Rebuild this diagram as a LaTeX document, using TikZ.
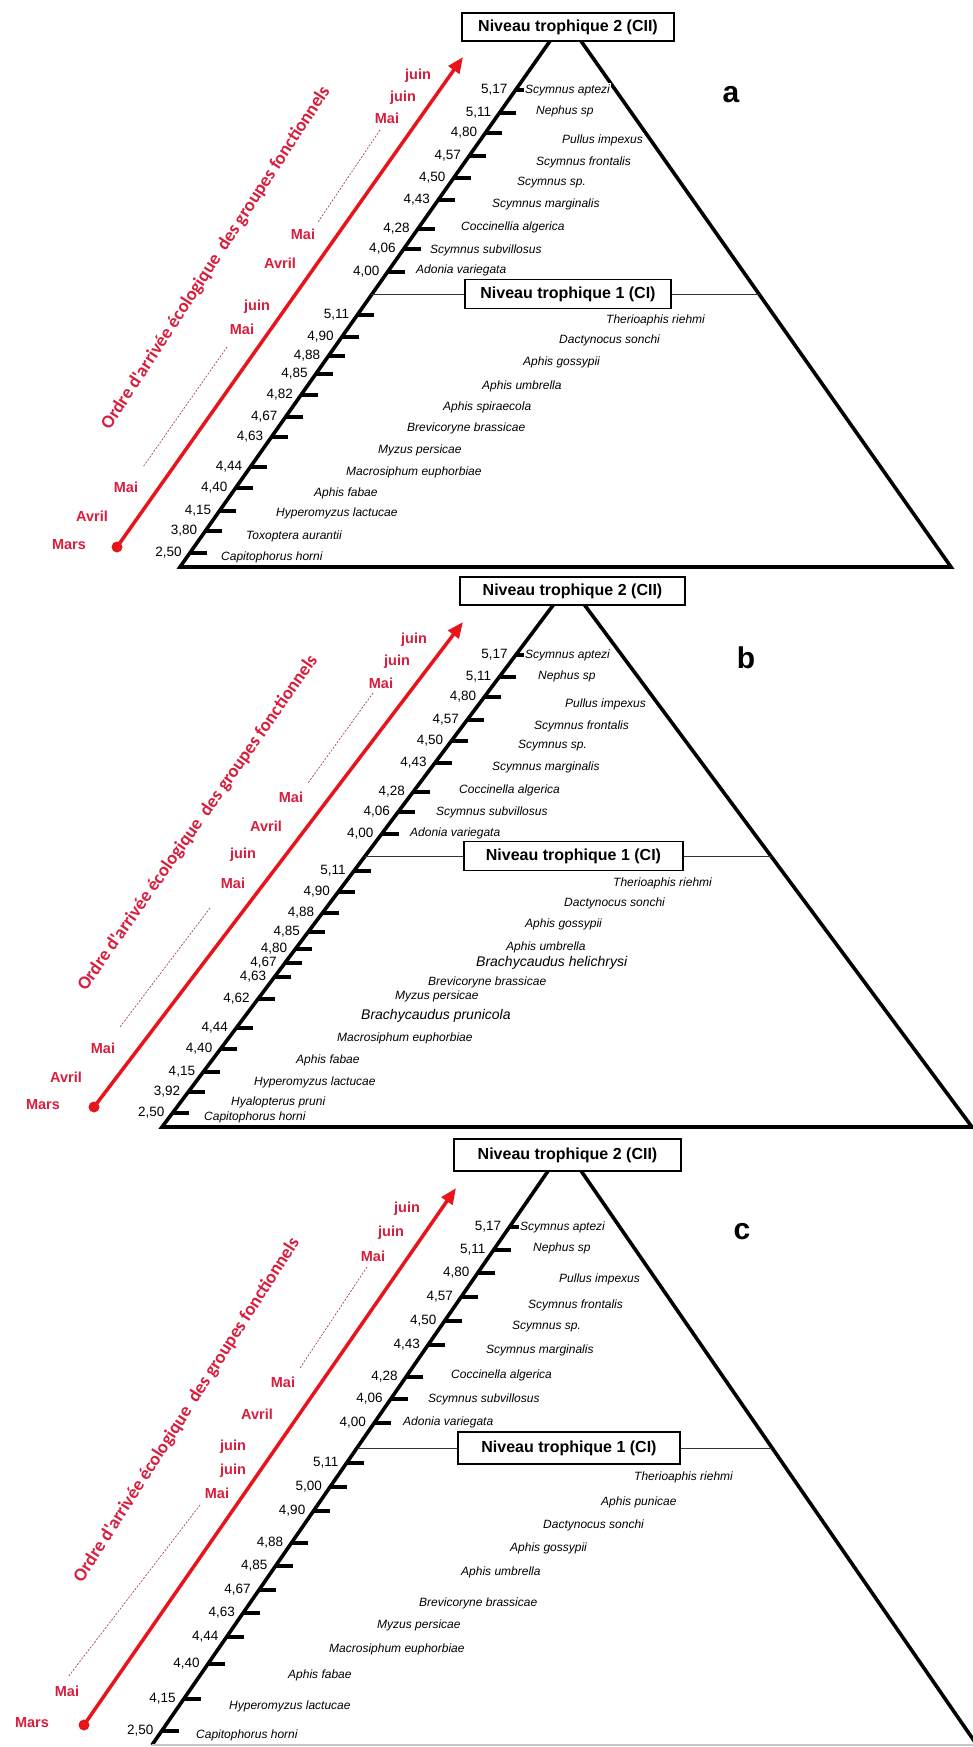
\documentclass[tikz,border=0pt]{standalone}
\usepackage{fontspec}
\setmainfont{Liberation Sans}
\newfontfamily\titlefont{Carlito}
\usepackage{tikz}
\usetikzlibrary{arrows.meta}
\definecolor{arrowred}{HTML}{E8141C}
\definecolor{monthred}{HTML}{D81E3C}
\definecolor{guidepink}{HTML}{A0406E}

\begin{document}
\begin{tikzpicture}[x=1pt,y=-1pt,
  side/.style={line width=3.6pt,line join=miter},
  tickmark/.style={line width=4.8pt},
  val/.style={anchor=east,inner sep=1pt,font=\fontsize{13.5}{14}\selectfont},
  spec/.style={anchor=west,inner sep=1pt,fill=white,font=\fontsize{12}{13}\selectfont\itshape},
  specbig/.style={spec,font=\fontsize{14}{15}\selectfont\itshape},
  level/.style={draw,line width=1.2pt,fill=white,inner sep=0pt,minimum height=29pt,font=\fontsize{16}{17}\selectfont\bfseries},
  levelline/.style={line width=0.8pt,black!80},
  month/.style={text=monthred,inner sep=0pt,font=\fontsize{14.5}{15}\selectfont\bfseries},
  title/.style={text=monthred,inner sep=0pt,font=\titlefont\bfseries\fontsize{18.5}{19}\selectfont},
  panel/.style={font=\fontsize{30}{30}\selectfont\bfseries},
  dot/.style={circle,fill=arrowred,inner sep=0pt,minimum size=11pt},
  timearrow/.style={arrowred,line width=3.5pt,-{Triangle[length=16pt,width=13pt]}},
  guide/.style={guidepink,line width=0.7pt,dash pattern=on 2pt off 1.5pt}]
\useasboundingbox (0,0) rectangle (973,1747);

\coordinate (apa) at (565.5,19);
\coordinate (bla) at (180,567);
\coordinate (bra) at (951,567);
\draw[side] (apa) -- (bla) -- (bra) -- cycle;
\foreach \v/\y [count=\i] in {{5,17}/90,{5,11}/113,{4,80}/133,{4,57}/156,{4,50}/178,{4,43}/200,{4,28}/229,{4,06}/249,{4,00}/272,{5,11}/315,{4,90}/337,{4,88}/356,{4,85}/374,{4,82}/395,{4,67}/417,{4,63}/437,{4,44}/467,{4,40}/488,{4,15}/511,{3,80}/531,{2,50}/553}{
  \pgfmathsetmacro\xl{180+0.7035*(567-\y)}
  \draw[tickmark] (\xl,\y) -- ++(17,0);
  \node[val] (va\i) at (\xl-7,\y) {\v};
}
\foreach \s/\x/\y [count=\i] in {Scymnus aptezi/524/90,Nephus sp/535/111,Pullus impexus/561/140,Scymnus frontalis/535/162,Scymnus sp./516/183,Scymnus marginalis/491/204,Coccinellia algerica/460/227,Scymnus subvillosus/429/250,Adonia variegata/415/270,Therioaphis riehmi/605/320,Dactynocus sonchi/558/340,Aphis gossypii/522/362,Aphis umbrella/481/386,Aphis spiraecola/442/407,Brevicoryne brassicae/406/428,Myzus persicae/377/450,Macrosiphum euphorbiae/345/472,Aphis fabae/313/493,Hyperomyzus lactucae/275/513,Toxoptera aurantii/245/536,Capitophorus horni/220/557}
  \node[spec] (sa\i) at (\x,\y) {\s};
\foreach \m/\x/\y [count=\i] in {juin/418/76,juin/403/98,Mai/387/118,Mai/303/234,Avril/280/263,juin/257/307,Mai/242/329,Mai/126/487,Avril/92/516,Mars/69/545}
  \node[month] (ma\i) at (\x,\y) {\m};
\coordinate (ga1) at (380,130);
\coordinate (ga2) at (318,222);
\coordinate (ga3) at (227,347);
\coordinate (ga4) at (143,467);
\draw[guide] (ga1) -- (ga2) (ga3) -- (ga4);
\node[dot] (da) at (117,547) {};
\coordinate (ea) at (463,57);
\draw[timearrow] (da.center) -- (ea);
\node[title,rotate=57] (ta) at (216,258) {Ordre d'arrivée écologique\ \ des groupes fonctionnels};
\node[level,minimum width=206pt] (nia) at (568,294) {Niveau trophique 1 (CI)};
\coordinate (la) at (371.4,294);
\coordinate (ra) at (759.7,294);
\draw[levelline] (la) -- (nia) (nia) -- (ra);
\node[level,minimum width=212pt,minimum height=28pt] (nta) at (568,27) {Niveau trophique 2 (CII)};
\node[panel] (pa) at (731,95) {a};

\coordinate (apb) at (569,584);
\coordinate (blb) at (162,1127);
\coordinate (brb) at (972,1127);
\draw[side] (apb) -- (blb) -- (brb) -- cycle;
\foreach \v/\y [count=\i] in {{5,17}/655,{5,11}/677,{4,80}/697,{4,57}/720,{4,50}/741,{4,43}/763,{4,28}/792,{4,06}/812,{4,00}/834,{5,11}/871,{4,90}/892,{4,88}/913,{4,85}/932,{4,80}/949,{4,67}/963,{4,63}/977,{4,62}/999,{4,44}/1028,{4,40}/1049,{4,15}/1072,{3,92}/1092,{2,50}/1113}{
  \pgfmathsetmacro\xl{162+0.7495*(1127-\y)}
  \draw[tickmark] (\xl,\y) -- ++(17,0);
  \node[val] (vb\i) at (\xl-7,\y) {\v};
}
\foreach \s/\x/\y [count=\i] in {Scymnus aptezi/524/655,Nephus sp/537/676,Pullus impexus/564/704,Scymnus frontalis/533/726,Scymnus sp./517/746,Scymnus marginalis/491/767,Coccinella algerica/458/790,Scymnus subvillosus/435/812,Adonia variegata/409/833,Therioaphis riehmi/612/883,Dactynocus sonchi/563/903,Aphis gossypii/524/924,Aphis umbrella/505/947,Brevicoryne brassicae/427/982,Myzus persicae/394/996,Macrosiphum euphorbiae/336/1038,Aphis fabae/295/1060,Hyperomyzus lactucae/253/1082,Hyalopterus pruni/230/1102,Capitophorus horni/203/1117}
  \node[spec] (sb\i) at (\x,\y) {\s};
\node[specbig] (sbh) at (475,963) {Brachycaudus helichrysi};
\node[specbig] (sbp) at (360,1016) {Brachycaudus prunicola};
\foreach \m/\x/\y [count=\i] in {juin/414/640,juin/397/662,Mai/381/683,Mai/291/797,Avril/266/826,juin/243/855,Mai/233/883,Mai/103/1048,Avril/66/1077,Mars/43/1105}
  \node[month] (mb\i) at (\x,\y) {\m};
\coordinate (gb1) at (373,693);
\coordinate (gb2) at (308,783);
\coordinate (gb3) at (210,908);
\coordinate (gb4) at (120,1027);
\draw[guide] (gb1) -- (gb2) (gb3) -- (gb4);
\node[dot] (db) at (94,1107) {};
\coordinate (eb) at (463,622);
\draw[timearrow] (db.center) -- (eb);
\node[title,rotate=55] (tb) at (198,823) {Ordre d'arrivée écologique\ \ des groupes fonctionnels};
\node[level,minimum width=219pt] (nib) at (573.5,856) {Niveau trophique 1 (CI)};
\coordinate (lb) at (365.1,856);
\coordinate (rb) at (770.8,856);
\draw[levelline] (lb) -- (nib) (nib) -- (rb);
\node[level,minimum width=225pt,minimum height=28pt] (ntb) at (572.5,591) {Niveau trophique 2 (CII)};
\node[panel] (pb) at (746,658) {b};

\coordinate (apc) at (564.6,1147);
\coordinate (blc) at (152,1745);
\coordinate (brc) at (977,1745);
\draw[side] (blc) -- (apc) -- (brc);
\draw[gray!45,line width=1.5pt] (blc) -- (brc);
\foreach \v/\y [count=\i] in {{5,17}/1227,{5,11}/1250,{4,80}/1273,{4,57}/1297,{4,50}/1321,{4,43}/1345,{4,28}/1377,{4,06}/1399,{4,00}/1423,{5,11}/1463,{5,00}/1487,{4,90}/1511,{4,88}/1543,{4,85}/1566,{4,67}/1590,{4,63}/1613,{4,44}/1637,{4,40}/1664,{4,15}/1699,{2,50}/1731}{
  \pgfmathsetmacro\xl{152+0.69*(1745-\y)}
  \draw[tickmark] (\xl,\y) -- ++(17,0);
  \node[val] (vc\i) at (\xl-7,\y) {\v};
}
\foreach \s/\x/\y [count=\i] in {Scymnus aptezi/519/1227,Nephus sp/532/1248,Pullus impexus/558/1279,Scymnus frontalis/527/1305,Scymnus sp./511/1327,Scymnus marginalis/485/1350,Coccinella algerica/450/1375,Scymnus subvillosus/427/1399,Adonia variegata/402/1422,Therioaphis riehmi/633/1477,Aphis punicae/600/1502,Dactynocus sonchi/542/1525,Aphis gossypii/509/1548,Aphis umbrella/460/1572,Brevicoryne brassicae/418/1603,Myzus persicae/376/1625,Macrosiphum euphorbiae/328/1649,Aphis fabae/287/1675,Hyperomyzus lactucae/228/1706,Capitophorus horni/195/1735}
  \node[spec] (sc\i) at (\x,\y) {\s};
\foreach \m/\x/\y [count=\i] in {juin/407/1209,juin/391/1233,Mai/373/1256,Mai/283/1382,Avril/257/1414,juin/233/1447,juin/233/1471,Mai/217/1493,Mai/67/1691,Mars/32/1723}
  \node[month] (mc\i) at (\x,\y) {\m};
\coordinate (gc1) at (367,1267);
\coordinate (gc2) at (300,1368);
\coordinate (gc3) at (200,1505);
\coordinate (gc4) at (68,1677);
\draw[guide] (gc1) -- (gc2) (gc3) -- (gc4);
\node[dot] (dc) at (84,1725) {};
\coordinate (ec) at (456,1188);
\draw[timearrow] (dc.center) -- (ec);
\node[title,rotate=57.5] (tc) at (187,1410) {Ordre d'arrivée écologique\ \ des groupes fonctionnels};
\node[level,minimum width=222pt,minimum height=32pt] (nic) at (569,1448) {Niveau trophique 1 (CI)};
\coordinate (lc) at (356.9,1448);
\coordinate (rc) at (772.3,1448);
\draw[levelline] (lc) -- (nic) (nic) -- (rc);
\node[level,minimum width=227pt,minimum height=32pt] (ntc) at (567.5,1155) {Niveau trophique 2 (CII)};
\node[panel] (pc) at (742,1232) {c};
\end{tikzpicture}
\end{document}
